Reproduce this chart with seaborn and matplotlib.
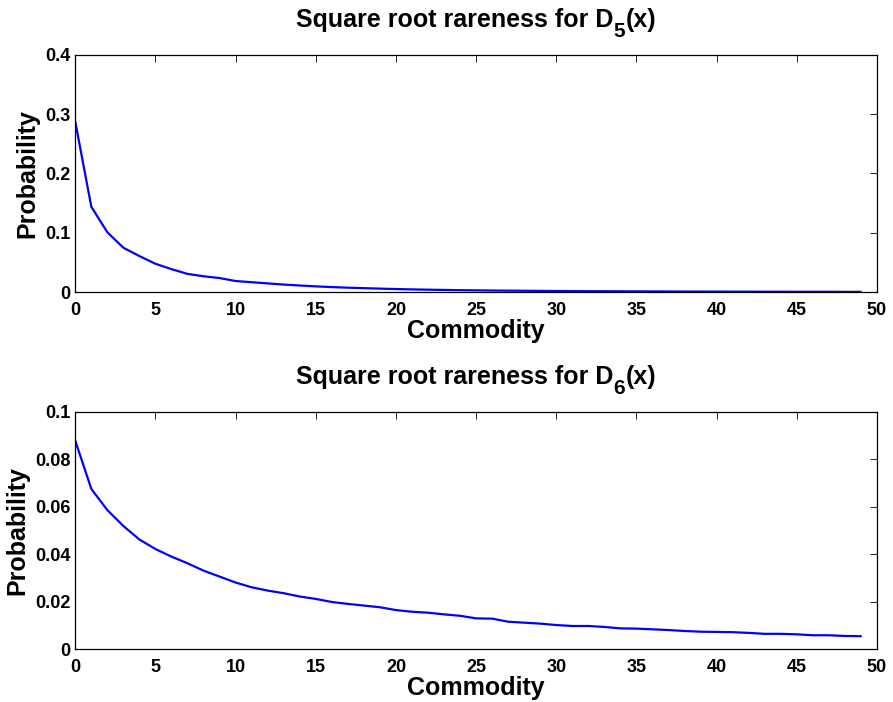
import numpy as np
import pandas as pd
import matplotlib
matplotlib.use("Agg")
import matplotlib.pyplot as plt
from matplotlib.ticker import FuncFormatter, MultipleLocator
import seaborn as sns

# Commodity index 0..49 and the square-root rareness probabilities
commodity = list(range(50))

prob_d5 = [0.287, 0.144, 0.101, 0.075, 0.061, 0.048, 0.039, 0.031, 0.027, 0.024,
           0.019, 0.017, 0.015, 0.013, 0.0115, 0.0100, 0.0088, 0.0078, 0.0070, 0.0062,
           0.0055, 0.0049, 0.0044, 0.0040, 0.0036, 0.0033, 0.0030, 0.0028, 0.0026, 0.0024,
           0.0022, 0.0020, 0.0019, 0.0018, 0.0017, 0.0016, 0.0015, 0.0014, 0.0013, 0.0012,
           0.0012, 0.0011, 0.0011, 0.0010, 0.0010, 0.0009, 0.0009, 0.0009, 0.0008, 0.0008]

prob_d6 = [0.0878, 0.0675, 0.0586, 0.0519, 0.0462, 0.0422, 0.0390, 0.0362, 0.0331, 0.0306,
           0.0281, 0.0261, 0.0247, 0.0236, 0.0222, 0.0212, 0.0199, 0.0191, 0.0184, 0.0177,
           0.0165, 0.0158, 0.0154, 0.0147, 0.0141, 0.0130, 0.0129, 0.0116, 0.0112, 0.0108,
           0.0102, 0.0098, 0.0098, 0.0094, 0.0088, 0.0087, 0.0084, 0.0081, 0.0077, 0.0074,
           0.0073, 0.0072, 0.0069, 0.0065, 0.0065, 0.0063, 0.0059, 0.0059, 0.0056, 0.0055]

title_main = "Square root rareness for D"
title_subs = ["5", "6"]
title_tail = "(x)"
x_ticks = list(range(0, 51, 5))
y_steps = [0.1, 0.02]
y_limits = [0.4, 0.1]

sns.set_theme(style="white")
plt.rcParams["font.family"] = ["Liberation Sans", "DejaVu Sans"]
plt.rcParams["font.weight"] = "bold"
plt.rcParams["text.color"] = "black"
plt.rcParams["axes.labelcolor"] = "black"

W, H = 893, 702
fig = plt.figure(figsize=(W / 100, H / 100), dpi=100)
ax_top = fig.add_axes([0.0843, 0.5836, 0.8977, 0.3386])
ax_bot = fig.add_axes([0.0843, 0.0751, 0.8977, 0.3384])

fmt = FuncFormatter(lambda v, _: f"{v:g}")

for ax, values, step, ymax in zip([ax_top, ax_bot], [prob_d5, prob_d6],
                                  y_steps, y_limits):
    df = pd.DataFrame({"Commodity": commodity, "Probability": values})
    sns.lineplot(data=df, x="Commodity", y="Probability", ax=ax,
                 color=(0, 0, 1), linewidth=1.6)
    ax.set_xlim(0, 50)
    ax.set_ylim(0, ymax)
    ax.set_xticks(x_ticks)
    ax.yaxis.set_major_locator(MultipleLocator(step))
    ax.yaxis.set_major_formatter(fmt)
    ax.xaxis.set_major_formatter(fmt)
    ax.tick_params(direction="in", length=5, width=0.6, color="black",
                   top=True, right=True, labelsize=13, labelcolor="black")
    ax.tick_params(axis="x", pad=7)
    ax.tick_params(axis="y", pad=3.5)
    for lbl in ax.get_xticklabels() + ax.get_yticklabels():
        lbl.set_fontweight("bold")
    for sp in ax.spines.values():
        sp.set_visible(True)
        sp.set_color("black")
        sp.set_linewidth(0.9)
    ax.set_xlabel("Commodity", fontsize=18, fontweight="bold", labelpad=0)
    ax.set_ylabel("Probability", fontsize=18, fontweight="bold", labelpad=4)
    ax.grid(False)

# Titles with a dropped subscript, assembled from three text pieces
renderer = fig.canvas.get_renderer()
for ax, sub in zip([ax_top, ax_bot], title_subs):
    bbox = ax.get_window_extent(renderer)
    base_y = bbox.y1 + 28
    pieces = [
        fig.text(0, 0, title_main, fontsize=18, fontweight="bold", va="baseline"),
        fig.text(0, 0, sub, fontsize=15, fontweight="bold", va="baseline"),
        fig.text(0, 0, title_tail, fontsize=18, fontweight="bold", va="baseline"),
    ]
    widths = [p.get_window_extent(renderer).width for p in pieces]
    x = (bbox.x0 + bbox.x1) / 2 - sum(widths) / 2
    offsets = [0, -10, 0]
    for p, w, dy in zip(pieces, widths, offsets):
        p.set_position((x / W, (base_y + dy) / H))
        x += w

fig.savefig("out.png", dpi=100, facecolor="white")
